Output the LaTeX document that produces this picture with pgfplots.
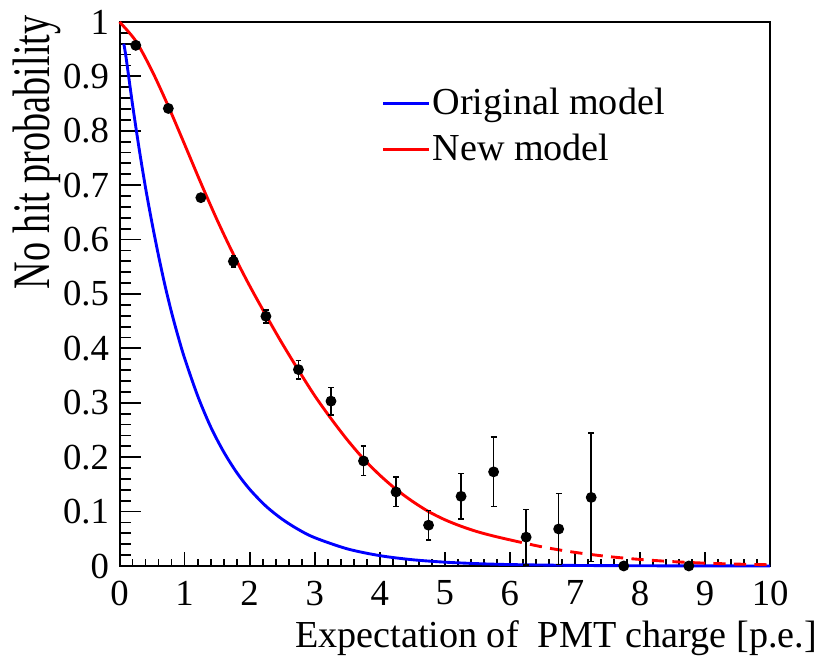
\documentclass[border=0pt]{standalone}
\usepackage{pgfplots}
\pgfplotsset{compat=1.18}
\usepackage{graphicx}
\usepackage{fontspec}
\setmainfont{Liberation Serif}
\definecolor{rootblue}{RGB}{0,0,255}
\definecolor{rootred}{RGB}{255,0,0}
\begin{document}
\begin{tikzpicture}
\begin{axis}[
  scale only axis,
  width=180.7pt, height=151.1pt,
  xmin=0, xmax=10, ymin=0, ymax=1,
  clip=false,
  axis line style={line width=0.55pt},
  tick style={line width=0.5pt, black},
  tick align=inside,
  xtick pos=bottom, ytick pos=left,
  xtick={0,1,2,3,4,5,6,7,8,9,10},
  ytick={0,0.1,0.2,0.3,0.4,0.5,0.6,0.7,0.8,0.9,1},
  yticklabels={0,0.1,0.2,0.3,0.4,0.5,0.6,0.7,0.8,0.9,1},
  minor x tick num=4, minor y tick num=4,
  major tick length=3.9pt, minor tick length=1.9pt,
  ytick style={/pgfplots/major tick length=6.1pt, /pgfplots/minor tick length=3.1pt},
  /pgf/number format/assume math mode=true,
  tick label style={font=\fontsize{10.2}{12}\selectfont},
  yticklabel style={xshift=0.6pt},
  xticklabel style={yshift=-0.6pt},
  every axis y label/.style={at={(axis description cs:-0.1084,1.0129)}, rotate=90, anchor=base east, inner sep=0pt},
  every axis x label/.style={at={(axis description cs:1.073,-0.1507)}, anchor=base east, inner sep=0pt},
  label style={font=\fontsize{10.6}{12}\selectfont},
  xlabel={Expectation of\ \ PMT charge [p.e.]},
  ylabel={\scalebox{1}[1.38]{No hit probability}},
  legend style={draw=none, fill=none, at={(axis description cs:0.402,0.884)}, anchor=north west,
    font=\fontsize{10.6}{12}\selectfont, row sep=3pt, inner sep=0pt,
    nodes={inner sep=0.5pt}},
  legend cell align=left,
  legend image code/.code={\draw[#1] (0pt,0pt) -- (12.8pt,0pt);},
]
\addplot[rootblue, line width=0.8pt, smooth] coordinates {
(0.065,0.96) (0.1,0.935) (0.2,0.848) (0.3,0.768) (0.4,0.695) (0.5,0.63)
(0.6,0.57) (0.7,0.515) (0.8,0.466) (0.9,0.422) (1.0,0.382) (1.2,0.313)
(1.4,0.256) (1.6,0.21) (1.8,0.172) (2.0,0.141) (2.25,0.11) (2.5,0.086)
(2.75,0.067) (3.0,0.052) (3.5,0.0315) (4.0,0.019) (4.5,0.0115) (5.0,0.007)
(5.5,0.0043) (6.0,0.0026) (7.0,0.001) (8.0,0.0004) (9.0,0.0001) (10,0.00005)
};
\addlegendentry{Original model}
\addplot[rootred, line width=0.8pt, smooth] coordinates {
(0,1.0) (0.25,0.965) (0.5,0.91) (0.75,0.845) (1.0,0.775) (1.25,0.704) (1.5,0.636)
(1.75,0.573) (2.0,0.515) (2.25,0.461) (2.5,0.409) (2.75,0.36) (3.0,0.313) (3.25,0.271)
(3.5,0.232) (3.75,0.197) (4.0,0.167) (4.25,0.141) (4.5,0.119) (4.75,0.1) (5.0,0.085)
(5.25,0.073) (5.5,0.063) (5.75,0.055) (6.0,0.048)
};
\addlegendentry{New model}
\addplot[rootred, line width=0.8pt, dash pattern=on 3.4pt off 2.3pt, smooth, forget plot] coordinates {
(6.0,0.048) (6.5,0.035) (7.0,0.025) (7.5,0.0175) (8.0,0.012) (8.5,0.008) (9.0,0.0052) (9.5,0.0034) (10,0.0022)
};
\addplot[black, only marks, mark=*, mark size=1.3pt, forget plot,
  error bars/.cd, y dir=both, y explicit,
  error bar style={line width=0.45pt, black},
  error mark options={rotate=90, black, mark size=0.8pt, line width=0.45pt}]
coordinates {
(0.25,0.957) +- (0,0.004)
(0.75,0.841) +- (0,0.005)
(1.25,0.677) +- (0,0.006)
(1.75,0.560) +- (0,0.010)
(2.25,0.459) +- (0,0.012)
(2.75,0.361) +- (0,0.017)
(3.25,0.303) +- (0,0.025)
(3.75,0.193) +- (0,0.027)
(4.25,0.136) +- (0,0.027)
(4.75,0.075) +- (0,0.027)
(5.25,0.128) +- (0,0.042)
(5.75,0.173) +- (0,0.064)
(6.25,0.053) +- (0,0.051)
(6.75,0.068) +- (0,0.065)
(7.25,0.126) +- (0,0.118)
(7.75,0.0) +- (0,0.0)
(8.75,0.0) +- (0,0.0)
};
\end{axis}
\pgfresetboundingbox
\path[use as bounding box] ([shift={(-33.2pt,6.1pt)}]current axis.north west) rectangle ([shift={(13.3pt,-27.2pt)}]current axis.south east);
\end{tikzpicture}
\end{document}
